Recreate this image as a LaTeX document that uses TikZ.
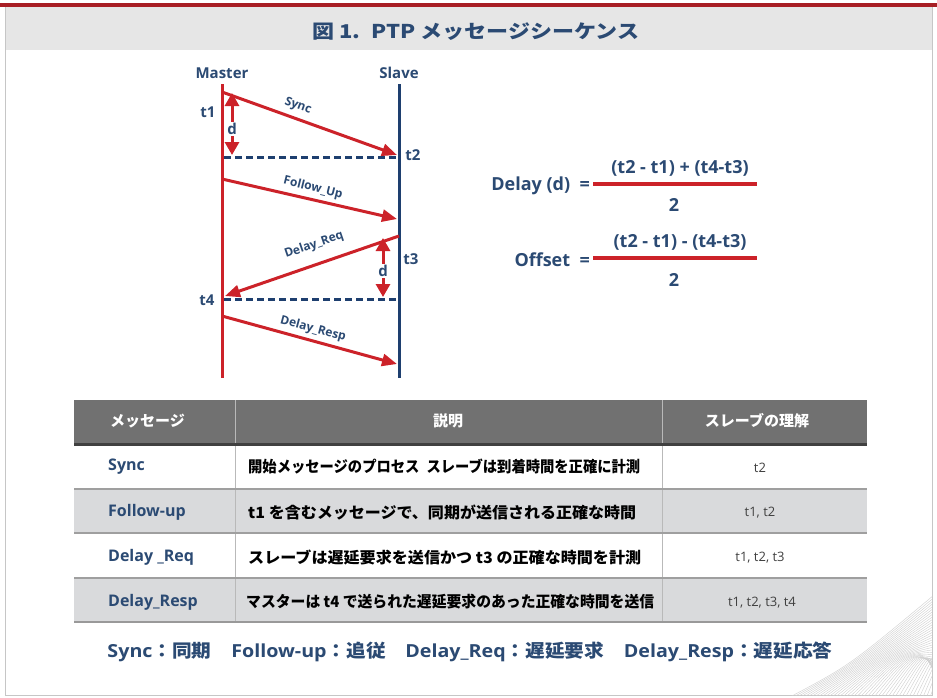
\documentclass[tikz,border=0pt]{standalone}
\usepackage{fontspec}
\usepackage{graphicx}
\setmainfont{Open Sans}
\newfontfamily\jp{Noto Sans CJK JP}
\usetikzlibrary{arrows.meta}
\definecolor{navy}{HTML}{2B4A73}
\definecolor{pred}{HTML}{CC2229}
\definecolor{lineblue}{HTML}{1E3F6F}
\definecolor{hdrgray}{HTML}{717171}
\definecolor{rowgray}{HTML}{D9DADC}
\definecolor{band}{HTML}{E6E6E6}
\definecolor{topred}{HTML}{A81E24}
\newcommand\fitw[2]{\resizebox{#1}{\height}{#2}}
\begin{document}
\begin{tikzpicture}[x=1pt,y=-1pt,
  lbl/.style={text=navy, font=\bfseries\fontsize{15}{15}\selectfont, inner sep=0pt},
  msg/.style={text=navy, font=\bfseries\fontsize{12}{12}\selectfont, inner sep=0pt},
  formula/.style={text=navy, font=\bfseries\fontsize{18}{18}\selectfont, inner sep=0pt},
  arr/.style={pred, line width=3pt, -{Triangle[length=15pt,width=12pt]}},
  darr/.style={pred, line width=3pt, {Triangle[length=13pt,width=14pt]}-{Triangle[length=13pt,width=14pt]}},
  dashline/.style={lineblue, line width=3pt, dash pattern=on 7pt off 4pt},
  hdr/.style={text=white, font=\jp\bfseries\fontsize{15}{15}\selectfont, inner sep=0pt},
  cola/.style={text=navy, font=\bfseries\fontsize{16}{16}\selectfont, inner sep=0pt, anchor=west},
  colb/.style={text=black, font=\jp\bfseries\fontsize{15.5}{15.5}\selectfont, inner sep=0pt, anchor=west},
  colc/.style={text=black!75, font=\fontsize{13}{13}\selectfont, inner sep=0pt},
  frac/.style={pred, line width=4pt}
]
\useasboundingbox (0,0) rectangle (937,697);
\fill[white] (0,0) rectangle (937,697);
% title band
\fill[band] (5,7) rectangle (932,50);
\fill[topred] (0,3) rectangle (937,7);
\draw[gray!45, line width=1pt] (5,7) -- (5,695) -- (932,695) -- (932,7);
\node[text=navy, font=\jp\bfseries\fontsize{19}{19}\selectfont, inner sep=0pt] (title) at (476,32)
  {\fitw{327pt}{図 1.\enspace PTP メッセージシーケンス}};

% decoration lower right
\begin{scope}
\clip (5,560) rectangle (932,695);
\foreach \i in {0,...,40} {
  \draw[gray!38, line width=0.4pt] (790+3.5*\i,697) .. controls (850+2.5*\i,665-0.5*\i) .. (934,595+2.6*\i);
}
\end{scope}

% lifelines
\coordinate (mtop) at (222,84); \coordinate (mbot) at (222,378);
\coordinate (stop) at (399,84); \coordinate (sbot) at (399,378);
\draw[pred, line width=3pt] (mtop) -- (mbot);
\draw[lineblue, line width=3pt] (stop) -- (sbot);
\node[lbl] (master) at (222,73) {Master};
\node[lbl] (slave) at (399,73) {Slave};

% Sync
\coordinate (sync0) at (222,92); \coordinate (sync1) at (397,155);
\draw[arr] (sync0) -- (sync1);
\node[msg, rotate=-20] (synclbl) at (298,106) {Sync};
\node[lbl] (t1) at (208,112) {t1};
\node[lbl] (t2) at (413,155) {t2};
\coordinate (d1a) at (232,93); \coordinate (d1b) at (232,155);
\draw[darr] (d1a) -- (d1b);
\node[lbl, fill=white, inner sep=1pt] (d1) at (232,129) {d};
\coordinate (h1a) at (224,157); \coordinate (h1b) at (397,157);
\draw[dashline] (h1a) -- (h1b);

% Follow_Up
\coordinate (fu0) at (222,179); \coordinate (fu1) at (397,219);
\draw[arr] (fu0) -- (fu1);
\node[msg, rotate=-14] (fulbl) at (313,188) {Follow\_Up};

% Delay_Req
\coordinate (dq0) at (399,236); \coordinate (dq1) at (225,296);
\draw[arr] (dq0) -- (dq1);
\node[msg, rotate=19] (dqlbl) at (314,245) {Delay\_Req};
\node[lbl] (t3) at (411,259) {t3};
\node[lbl] (t4) at (207,300) {t4};
\coordinate (d2a) at (383,238); \coordinate (d2b) at (383,297);
\draw[darr] (d2a) -- (d2b);
\node[lbl, fill=white, inner sep=1pt] (d2) at (383,271) {d};
\coordinate (h2a) at (224,299); \coordinate (h2b) at (397,299);
\draw[dashline] (h2a) -- (h2b);

% Delay_Resp
\coordinate (dr0) at (222,316); \coordinate (dr1) at (397,364);
\draw[arr] (dr0) -- (dr1);
\node[msg, rotate=-15] (drlbl) at (313,329) {Delay\_Resp};

% formulas
\node[formula, anchor=east] (delayl) at (590,186) {Delay (d)\ \ =};
\coordinate (fa0) at (593,184); \coordinate (fa1) at (757,184);
\draw[frac] (fa0) -- (fa1);
\node[formula] (num1) at (680,168) {(t2 - t1) + (t4-t3)};
\node[formula] (den1) at (674,205) {2};
\node[formula, anchor=east] (offl) at (590,260) {Offset\ \ =};
\coordinate (fb0) at (593,258); \coordinate (fb1) at (757,258);
\draw[frac] (fb0) -- (fb1);
\node[formula] (num2) at (680,242) {(t2 - t1) - (t4-t3)};
\node[formula] (den2) at (674,280) {2};

% table
\fill[hdrgray] (74,400) rectangle (867,444);
\fill[rowgray] (74,489) rectangle (867,533);
\fill[rowgray] (74,578) rectangle (867,622);
\draw[gray!55, line width=1pt] (235,400) -- (235,622);
\draw[gray!55, line width=1pt] (662,400) -- (662,622);
\draw[black!75, line width=3pt] (74,444.5) -- (867,444.5);
\draw[gray!75, line width=1.3pt] (74,489) -- (867,489);
\draw[gray!75, line width=1.3pt] (74,533) -- (867,533);
\draw[gray!75, line width=1.3pt] (74,578) -- (867,578);
\draw[gray!80, line width=1.6pt] (74,622) -- (867,622);

\node[hdr, anchor=west] (h1) at (110,421) {メッセージ};
\node[hdr] (h2) at (448,421) {説明};
\node[hdr] (h3) at (757,421) {スレーブの理解};

\node[cola] (r1a) at (108,467) {Sync};
\node[colb] (r1b) at (248,467) {\fitw{392pt}{開始メッセージのプロセス\enspace スレーブは到着時間を正確に計測}};
\node[colc] (r1c) at (760,468) {t2};

\node[cola] (r2a) at (108,512) {Follow-up};
\node[colb] (r2b) at (248,512) {\fitw{388pt}{t1 を含むメッセージで、同期が送信される正確な時間}};
\node[colc] (r2c) at (760,513) {t1, t2};

\node[cola] (r3a) at (108,557) {Delay \_Req};
\node[colb] (r3b) at (248,557) {\fitw{393pt}{スレーブは遅延要求を送信かつ t3 の正確な時間を計測}};
\node[colc] (r3c) at (760,558) {t1, t2, t3};

\node[cola] (r4a) at (108,602) {Delay\_Resp};
\node[colb] (r4b) at (246,602) {\fitw{408pt}{マスターは t4 で送られた遅延要求のあった正確な時間を送信}};
\node[colc] (r4c) at (762,603) {t1, t2, t3, t4};

% legend
\node[text=navy, font=\bfseries\fontsize{18}{18}\selectfont, inner sep=0pt] (legend) at (470,652)
  {\fitw{725pt}{Sync{\jp：同期}\quad Follow-up{\jp：追従}\quad Delay\_Req{\jp：遅延要求}\quad Delay\_Resp{\jp：遅延応答}}};
\end{tikzpicture}
\end{document}
